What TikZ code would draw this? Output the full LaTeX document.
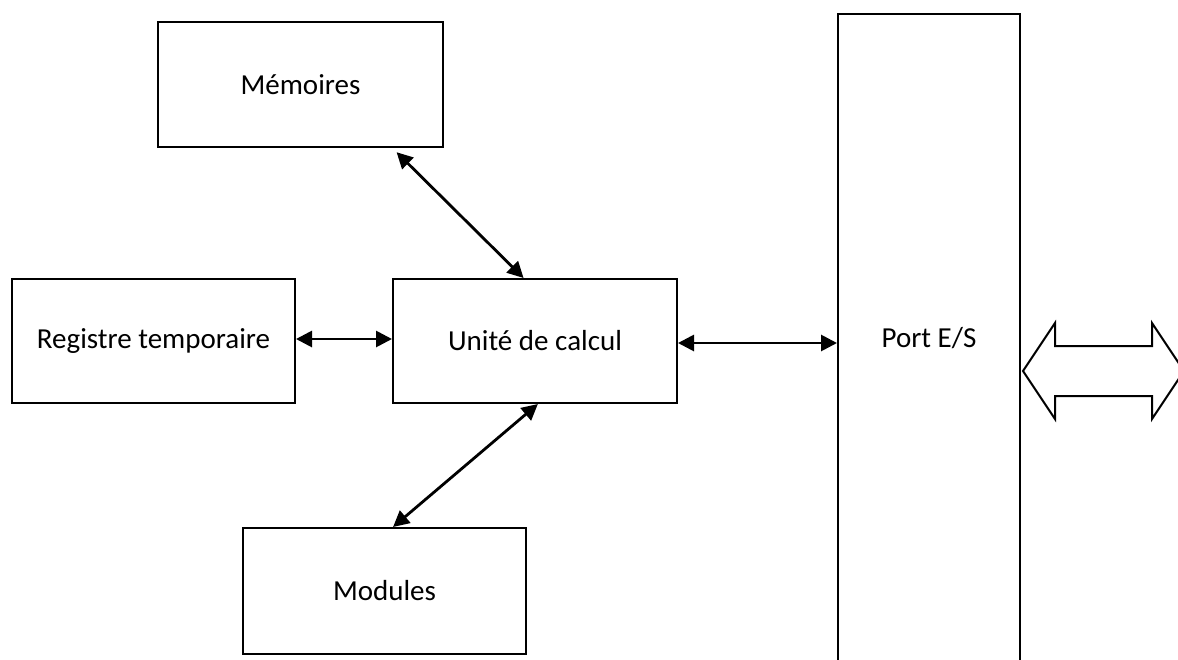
\documentclass[tikz,border=0pt]{standalone}
\usepackage{fontspec}
\setmainfont{Carlito}
\usetikzlibrary{arrows.meta,calc}
\begin{document}
\begin{tikzpicture}[x=0.5pt,y=-0.5pt,
  box/.style={draw=black,line width=1pt,fill=white,inner sep=0pt,font=\fontsize{14.5}{17}\selectfont},
  conn/.style={line width=1.4pt,{Triangle[length=8pt,width=8pt]}-{Triangle[length=8pt,width=8pt]}}]
\useasboundingbox (0,0) rectangle (1178,659);
\clip (0,0) rectangle (1178,659);
\node[box,minimum width=142.5pt,minimum height=62.5pt] (mem) at (300.5,84.5) {Mémoires};
\node[box,minimum width=141.5pt,minimum height=62pt] (reg) at (153.5,341) {Registre temporaire};
\node[box,minimum width=142pt,minimum height=62pt] (unit) at (535,341) {Unité de calcul};
\node[box,minimum width=141.5pt,minimum height=63pt] (mod) at (384.5,591) {Modules};
\node[box,minimum width=91pt,minimum height=324pt] (port) at (929,338) {Port E/S};
\draw[conn] ($(reg.east)+(0,-2)$) -- ($(unit.west)+(0,-2)$);
\draw[conn] ($(unit.east)+(0,2)$) -- ($(unit.east -| port.west)+(0,2)$);
\draw[conn,shorten <=3pt] ($(mem.south west)!0.82!(mem.south east)$) -- ($(unit.north west)!0.46!(unit.north east)$);
\draw[conn] ($(unit.south west)!0.51!(unit.south east)$) -- ($(mod.north west)!0.53!(mod.north east)$);
\draw[line width=1pt,line join=miter] (1023,371) -- (1055,323) -- (1055,346) -- (1152,346) -- (1152,323) -- (1184,371) -- (1152,419) -- (1152,396) -- (1055,396) -- (1055,419) -- cycle;
\end{tikzpicture}
\end{document}
